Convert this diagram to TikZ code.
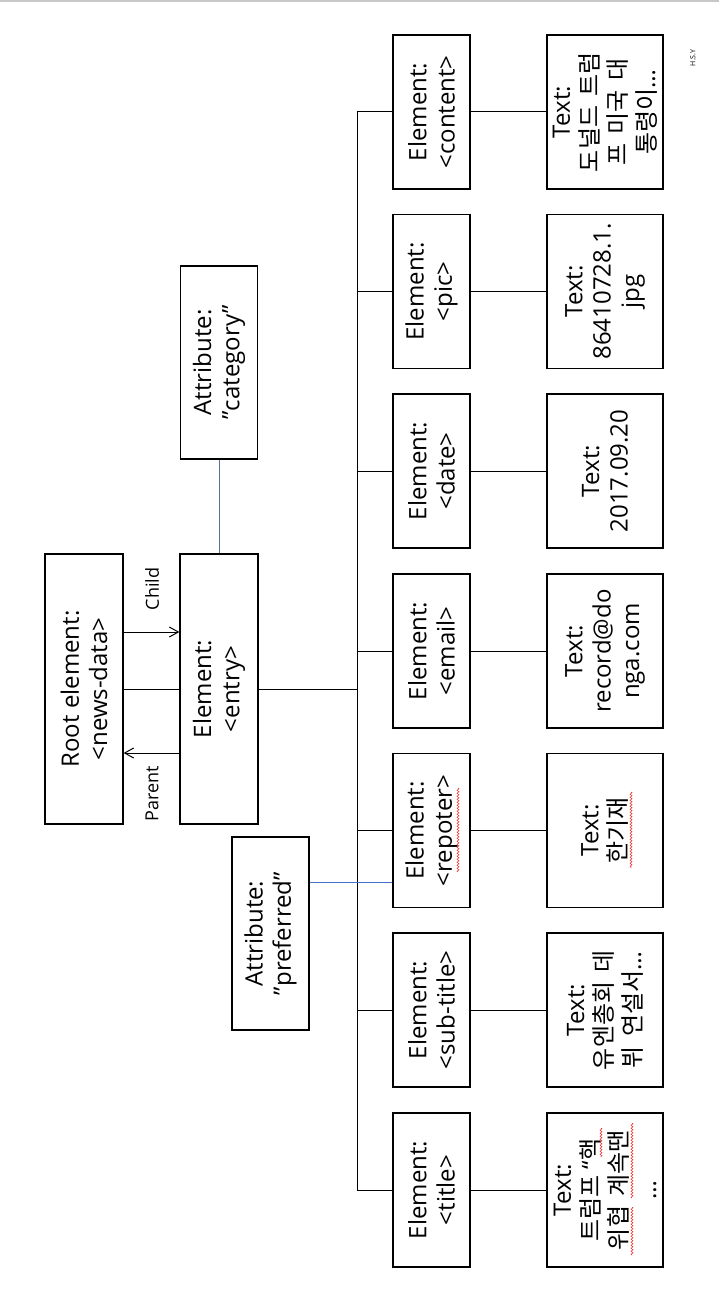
\documentclass[tikz,border=0pt]{standalone}
\usepackage{fontspec}
\setmainfont{Open Sans}
\newfontfamily\kr[WordSpace=1.8]{Noto Sans CJK KR}
\usetikzlibrary{arrows.meta,decorations.pathmorphing}

\definecolor{attrblue}{HTML}{4472C4}
\definecolor{catline}{HTML}{5A6E9A}
\definecolor{frameline}{HTML}{C8C8C8}
\definecolor{spellred}{HTML}{F04040}

\begin{document}
\begin{tikzpicture}[x=0.5pt,y=-0.5pt,
  box/.style={draw,line width=0.65pt,rotate=90,align=center,inner sep=0pt,
    font=\fontsize{12}{14.2}\selectfont},
  bigbox/.style={box,minimum width=135pt,minimum height=39pt},
  attrbox/.style={box,minimum width=96.5pt,minimum height=38.5pt},
  elembox/.style={box,minimum width=77pt,minimum height=38.5pt},
  textbox/.style={box,minimum width=77pt,minimum height=58pt},
  link/.style={line width=0.5pt},
  arrowlink/.style={link,-{Straight Barb[length=4.5pt,width=5pt,line width=0.5pt]}},
  lbl/.style={rotate=90,inner sep=0pt,font=\fontsize{9}{11}\selectfont},
  squiggle/.style={spellred,line width=0.3pt,decorate,
    decoration={zigzag,amplitude=0.5pt,segment length=1.5pt}}
]
\useasboundingbox (0,0) rectangle (719,1310);

% frame line along the top edge
\draw[frameline,line width=1pt] (0,1.5) -- (719,1.5);

% root and entry
\node[bigbox] (root) at (84,689) {Root element:\\<news-data>};
\node[bigbox] (entry) at (219,689) {Element:\\<entry>};

% attributes
\node[attrbox] (cat) at (219,362.5) {Attribute:\\"category"};
\node[attrbox] (pref) at (270.5,933.5) {Attribute:\\"preferred"};

% child elements
\node[elembox] (econtent) at (431.5,112) {Element:\\<content>};
\node[elembox] (epic) at (431.5,291.5) {Element:\\<pic>};
\node[elembox] (edate) at (431.5,471) {Element:\\<date>};
\node[elembox] (eemail) at (431.5,651) {Element:\\<email>};
\node[elembox] (erep) at (431.5,830.5) {Element:\\<repoter>};
\node[elembox] (esub) at (431.5,1010) {Element:\\<sub-title>};
\node[elembox] (etitle) at (431.5,1190) {Element:\\<title>};

% text values
\node[textbox] (tcontent) at (605,112) {Text:\\{\kr 도널드 트럼}\\{\kr 프 미국 대}\\{\kr 통령이}…};
\node[textbox] (tpic) at (605,291.5) {Text:\\86410728.1.\\jpg};
\node[textbox] (tdate) at (605,471) {Text:\\2017.09.20};
\node[textbox] (temail) at (605,651) {Text:\\record@do\\nga.com};
\node[textbox] (trep) at (605,830.5) {Text:\\{\kr 한기재}};
\node[textbox] (tsub) at (605,1010) {Text:\\{\kr 유엔총회 데}\\{\kr 뷔 연설서}…};
\node[textbox] (ttitle) at (605,1190) {Text:\\{\kr 트럼프} “{\kr 핵}\\{\kr 위협 계속땐}\\…};

% root <-> entry
\coordinate (childy) at (0,632);
\coordinate (parenty) at (0,753);
\draw[arrowlink] (root.south |- childy) -- (entry.north |- childy);
\draw[link] (root.south) -- (entry.north);
\draw[arrowlink] (entry.north |- parenty) -- (root.south |- parenty);
\node[lbl] (child) at (152,589) {Child};
\node[lbl] (parent) at (152,794) {Parent};

% entry -> category
\draw[catline,line width=0.45pt] (entry.east) -- (cat.west);

% trunk
\coordinate (trunktop) at (357,112);
\coordinate (trunkbot) at (357,1190);
\draw[link] (trunktop) -- (trunkbot);
\draw[link] (entry.south) -- (entry.south -| trunktop);

% trunk -> elements -> texts
\foreach \e/\t in {econtent/tcontent,epic/tpic,edate/tdate,eemail/temail,erep/trep,esub/tsub,etitle/ttitle}{
  \draw[link] (\e.north -| trunktop) -- (\e.north);
  \draw[link] (\e.south) -- (\t.north);
}

% preferred attribute on repoter
\coordinate (prefy) at (0,882);
\draw[attrblue,line width=0.5pt] (pref.south |- prefy) -- (erep.north |- prefy);

% spell-check marks
\draw[squiggle] (458,788) -- (458,872);
\draw[squiggle] (631,792) -- (631,868);
\draw[squiggle] (601,1128) -- (601,1157);
\draw[squiggle] (632,1123) -- (632,1198);
\draw[squiggle] (632,1207) -- (632,1255);

% signature
\node[rotate=90,inner sep=0pt,font=\fontsize{3.5}{4}\selectfont] (sig) at (693,58) {H.S.Y};
\end{tikzpicture}
\end{document}
